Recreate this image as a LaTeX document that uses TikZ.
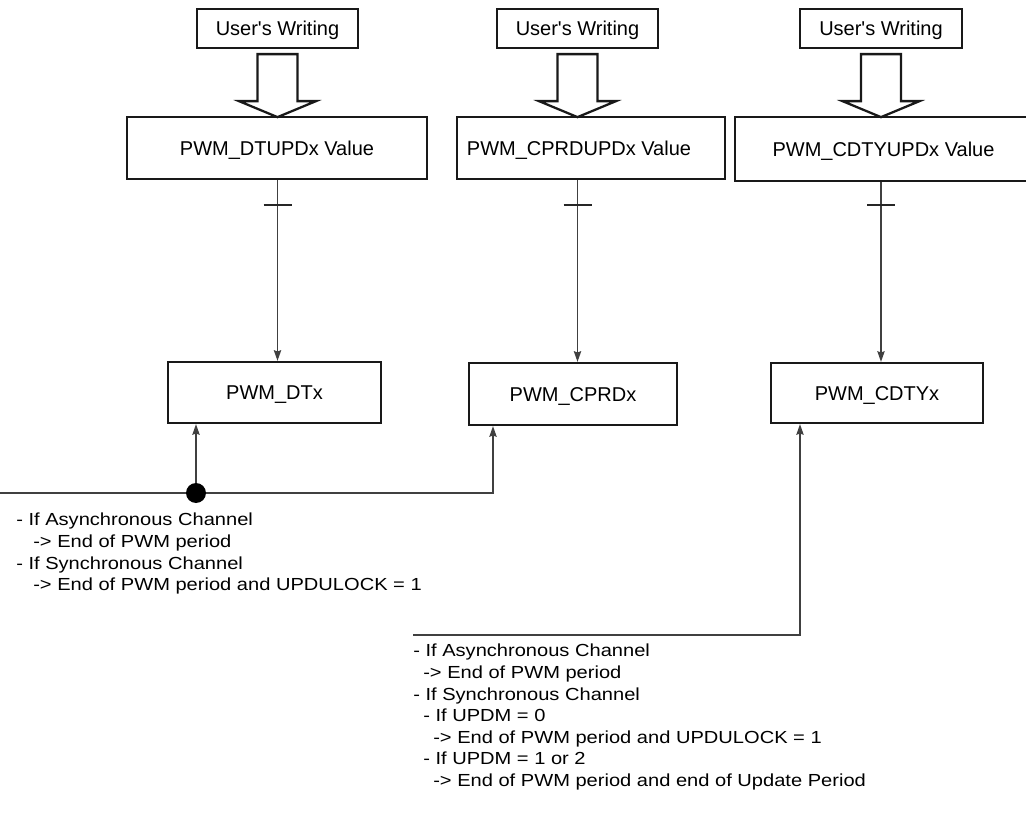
\documentclass[tikz,border=0pt]{standalone}
\usepackage{fontspec}
\setmainfont{Liberation Sans}
\newfontfamily\notefont[FakeStretch=1.15]{Liberation Sans}
\usetikzlibrary{arrows.meta}
\newcommand{\indl}{\hspace*{7.5pt}}
\newcommand{\indw}{\hspace*{12.75pt}}

\begin{document}
\begin{tikzpicture}[x=0.75pt, y=-0.75pt,
  box/.style={draw=black!90, line width=1.7pt, inner sep=0pt, text height=10.7pt, text depth=0pt, font=\fontsize{15}{18}\selectfont},
  wbox/.style={box, minimum width=121pt, minimum height=29.25pt},
  fat/.style={draw=black!90, line width=1.7pt, line join=miter},
  wire/.style={draw=black!75, line width=1.1pt},
  tickmark/.style={draw=black!85, line width=1.8pt},
  dot/.style={circle, fill=black, inner sep=0pt, minimum size=15pt},
  note/.style={anchor=north west, align=left, inner sep=0pt, font=\notefont\fontsize{13.1}{16.2}\selectfont},
  >={Stealth[length=8pt, width=5.5pt, inset=1pt]}]
\useasboundingbox (0,0) rectangle (1026,820);

% writes
\node[wbox] (u1) at (277.5,28.5) {User\textquotesingle s Writing};
\node[wbox] (u2) at (577.5,28.5) {User\textquotesingle s Writing};
\node[wbox] (u3) at (881,28.5) {User\textquotesingle s Writing};
\draw[fat] (u1.south) ++(-20,5) -- ++(0,47) -- ++(-18.5,0) -- ++(38.5,16) -- ++(38.5,-16) -- ++(-18.5,0) -- ++(0,-47) -- cycle;
\draw[fat] (u2.south) ++(-20,5) -- ++(0,47) -- ++(-18.5,0) -- ++(38.5,16) -- ++(38.5,-16) -- ++(-18.5,0) -- ++(0,-47) -- cycle;
\draw[fat] (u3.south) ++(-20,5) -- ++(0,47) -- ++(-18.5,0) -- ++(38.5,16) -- ++(38.5,-16) -- ++(-18.5,0) -- ++(0,-47) -- cycle;

% update registers
\node[box, minimum width=225pt, minimum height=46.5pt] (v1) at (277,148) {PWM\_DTUPDx Value};
\node[box, minimum width=201pt, minimum height=46.5pt] (v2) at (591,148) {PWM\_CPRDUPDx Value\hspace*{18pt}};
\node[box, minimum width=223pt, minimum height=48pt] (v3) at (883.5,149) {PWM\_CDTYUPDx Value};

% active registers
\node[box, minimum width=160pt, minimum height=45.75pt] (dt) at (274.5,392.5) {PWM\_DTx};
\node[box, minimum width=156pt, minimum height=46.5pt] (cp) at (573,394) {PWM\_CPRDx};
\node[box, minimum width=159pt, minimum height=45pt] (cy) at (877,393) {PWM\_CDTYx};

\draw[wire, ->] (u1.south |- v1.south) -- coordinate[pos=0.137] (t1) (u1.south |- dt.north);
\draw[wire, ->] (u2.south |- v2.south) -- coordinate[pos=0.136] (t2) (u2.south |- cp.north);
\draw[wire, ->] (u3.south |- v3.south) -- coordinate[pos=0.126] (t3) (u3.south |- cy.north);
\draw[tickmark] (t1) ++(-14,0) -- ++(28,0);
\draw[tickmark] (t2) ++(-14,0) -- ++(28,0);
\draw[tickmark] (t3) ++(-14,0) -- ++(28,0);

% update events
\coordinate (in1) at (0,493);
\coordinate (k1) at (493,493);
\draw[wire, ->] (in1) -- (k1) -- (k1 |- cp.south);
\node[dot] (j1) at (196,493) {};
\draw[wire, ->] (j1) -- (j1 |- dt.south);

\coordinate (in2) at (413,635);
\coordinate (k2) at (800,635);
\draw[wire, ->] (in2) -- (k2) -- (k2 |- cy.south);

\node[note] (n1) at (16,513) {- If Asynchronous Channel\\
  \indw-> End of PWM period\\
  - If Synchronous Channel\\
  \indw-> End of PWM period and UPDULOCK = 1};
\node[note] (n2) at (413,644) {- If Asynchronous Channel\\
  \indl-> End of PWM period\\
  - If Synchronous Channel\\
  \indl- If UPDM = 0\\
  \indl\indl-> End of PWM period and UPDULOCK = 1\\
  \indl- If UPDM = 1 or 2\\
  \indl\indl-> End of PWM period and end of Update Period};
\end{tikzpicture}
\end{document}
